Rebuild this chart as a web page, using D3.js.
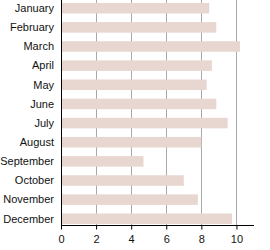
<!DOCTYPE html>
<html>
<head>
<meta charset="utf-8">
<script src="https://cdn.jsdelivr.net/npm/d3@7"></script>
<style>
  body { margin: 0; background: #fff; }
  text { font-family: "Liberation Sans", Arial, sans-serif; font-size: 11px; fill: #111; }
</style>
</head>
<body>
<svg width="270" height="250"></svg>
<script>
// data
var months = ["January", "February", "March", "April", "May", "June",
              "July", "August", "September", "October", "November", "December"];
var values = [8.45, 8.85, 10.2, 8.6, 8.3, 8.85, 9.5, 8.0, 4.7, 7.0, 7.8, 9.75];
var xTicks = [0, 2, 4, 6, 8, 10];

var svg = d3.select("svg"),
    plotLeft = 61, plotRight = 254, plotTop = 2, plotBottom = 225;

var x = d3.scaleLinear().domain([0, 11]).range([plotLeft, plotRight]);
var y = d3.scaleBand().domain(months).range([plotTop, plotBottom])
    .paddingInner(0.45).paddingOuter(0.05);

// gridlines behind bars
svg.append("g").selectAll("line")
    .data(xTicks.slice(1))
  .enter().append("line")
    .attr("x1", function(d) { return Math.round(x(d)) + 0.5; })
    .attr("x2", function(d) { return Math.round(x(d)) + 0.5; })
    .attr("y1", 0).attr("y2", plotBottom)
    .attr("stroke", "#a8a8a8").attr("stroke-width", 1);

svg.append("g").selectAll("rect")
    .data(values)
  .enter().append("rect")
    .attr("x", x(0))
    .attr("y", function(d, i) { return y(months[i]); })
    .attr("width", function(d) { return x(d) - x(0); })
    .attr("height", y.bandwidth())
    .attr("fill", "#e8d6d1");

// x axis
var xAxis = svg.append("g")
    .attr("transform", "translate(0," + (plotBottom + 0.5) + ")")
    .call(d3.axisBottom(x).tickValues(xTicks).tickSize(4).tickPadding(6));
xAxis.select(".domain").attr("d", "M" + plotLeft + ",0H" + plotRight).attr("stroke", "#000");
xAxis.selectAll("text").style("font-size", "11px").attr("fill", "#111");

// y axis line + labels
svg.append("line")
    .attr("x1", plotLeft + 0.5).attr("x2", plotLeft + 0.5)
    .attr("y1", 0).attr("y2", plotBottom + 1)
    .attr("stroke", "#000");

svg.append("g").selectAll("text")
    .data(months)
  .enter().append("text")
    .attr("x", plotLeft - 7)
    .attr("y", function(d) { return y(d) + y.bandwidth() / 2; })
    .attr("dy", "0.35em")
    .attr("text-anchor", "end")
    .text(function(d) { return d; });
</script>
</body>
</html>
